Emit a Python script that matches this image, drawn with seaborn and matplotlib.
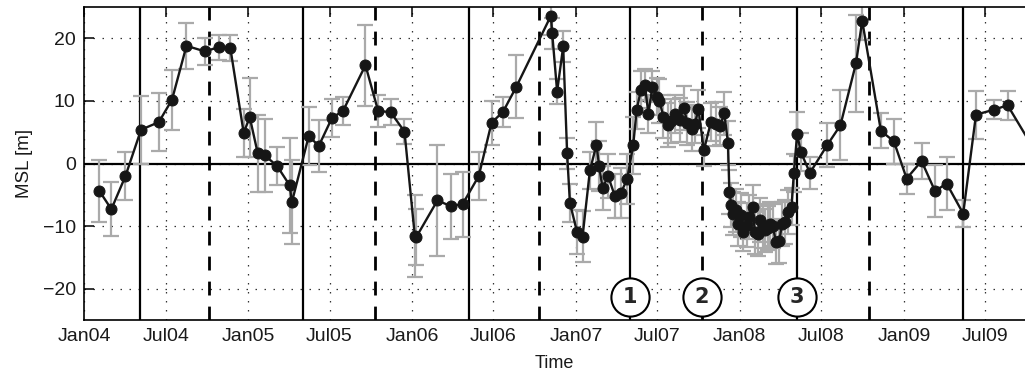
import numpy as np
import pandas as pd
import matplotlib
matplotlib.use("Agg")
import matplotlib.pyplot as plt
import matplotlib.dates as mdates
import seaborn as sns

# Observation epochs (decimal years), mean sea level anomaly and its 1-sigma error
t_year = [
    2004.094, 2004.167, 2004.253, 2004.348, 2004.456, 2004.537, 2004.625, 2004.738,
    2004.822, 2004.893, 2004.974, 2005.011, 2005.060, 2005.103, 2005.178, 2005.255,
    2005.268, 2005.371, 2005.432, 2005.513, 2005.580, 2005.717, 2005.794, 2005.870,
    2005.955, 2006.018, 2006.028, 2006.156, 2006.236, 2006.309, 2006.408, 2006.486,
    2006.557, 2006.638, 2006.848, 2006.856, 2006.886, 2006.923, 2006.947, 2006.964,
    2007.008, 2007.041, 2007.086, 2007.126, 2007.142, 2007.163, 2007.197, 2007.238,
    2007.275, 2007.313, 2007.350, 2007.371, 2007.397, 2007.421, 2007.443, 2007.467,
    2007.494, 2007.510, 2007.534, 2007.561, 2007.583, 2007.604, 2007.635, 2007.659,
    2007.681, 2007.706, 2007.726, 2007.748, 2007.781, 2007.824, 2007.854, 2007.879,
    2007.906, 2007.928, 2007.937, 2007.949, 2007.961, 2007.976, 2007.992, 2008.007,
    2008.021, 2008.042, 2008.056, 2008.078, 2008.092, 2008.111, 2008.123, 2008.141,
    2008.153, 2008.172, 2008.184, 2008.202, 2008.221, 2008.242, 2008.257, 2008.275,
    2008.296, 2008.316, 2008.330, 2008.350, 2008.373, 2008.428, 2008.535, 2008.614,
    2008.709, 2008.747, 2008.861, 2008.940, 2009.018, 2009.109, 2009.191, 2009.262,
    2009.363, 2009.441, 2009.551, 2009.634, 2009.801,
]
msl = [
    -4.4, -7.3, -2.0, 5.4, 6.6, 10.2, 18.8, 17.9,
    18.6, 18.4, 4.9, 7.4, 1.6, 1.3, -0.4, -3.5,
    -6.2, 4.4, 2.8, 7.3, 8.4, 15.7, 8.4, 8.2,
    5.1, -11.6, -11.7, -5.9, -6.8, -6.5, -2.0, 6.5,
    8.3, 12.3, 23.6, 20.8, 11.5, 18.7, 1.6, -6.3,
    -11.0, -11.7, -1.1, 3.0, -0.4, -3.9, -2.0, -5.2,
    -4.7, -2.5, 2.9, 8.5, 11.8, 12.6, 7.9, 12.3,
    10.7, 10.0, 7.5, 6.2, 6.8, 7.9, 7.0, 8.9,
    6.4, 5.5, 6.3, 8.7, 2.1, 6.6, 6.3, 6.0,
    8.0, 3.3, -4.6, -6.6, -8.0, -7.5, -9.6, -8.2,
    -10.9, -9.8, -8.6, -6.9, -10.9, -11.2, -9.0, -10.0,
    -10.7, -10.3, -9.6, -10.0, -12.6, -12.4, -9.6, -9.3,
    -7.7, -6.9, -1.5, 4.7, 1.8, -1.5, 3.0, 6.1,
    16.0, 22.8, 5.2, 3.55, -2.4, 0.4, -4.4, -3.2,
    -8.0, 7.8, 8.6, 9.3, 2.0,
]
msl_err = [
    5.0, 4.3, 3.8, 5.4, 4.6, 4.8, 3.7, 2.1,
    2.0, 2.1, 3.8, 6.3, 6.2, 5.8, 3.1, 7.6,
    6.7, 4.6, 4.1, 3.0, 2.3, 6.5, 2.5, 2.1,
    2.0, 6.6, 4.5, 8.9, 5.2, 5.2, 3.9, 3.5,
    2.4, 5.0, 3.0, 2.5, 2.0, 2.5, 2.5, 3.0,
    3.5, 4.1, 3.0, 3.7, 4.0, 3.5, 3.5, 3.5,
    4.0, 4.0, 4.5, 3.0, 3.0, 2.5, 3.0, 2.5,
    3.0, 3.5, 3.5, 3.5, 3.5, 3.0, 3.5, 3.5,
    3.5, 3.5, 3.0, 3.0, 2.5, 3.0, 3.5, 3.0,
    3.5, 3.5, 3.5, 3.5, 3.5, 3.5, 3.5, 3.5,
    3.0, 3.5, 3.5, 3.5, 3.5, 3.5, 3.5, 3.5,
    3.5, 3.5, 3.5, 3.5, 3.5, 3.5, 3.5, 3.5,
    3.5, 3.0, 3.0, 3.5, 3.0, 2.5, 3.5, 5.6,
    7.8, 3.0, 2.8, 3.6, 2.4, 2.9, 4.1, 4.3,
    2.1, 3.85, 1.5, 2.3, 3.0,
]

# Event markers (decimal years)
solid_events = [2004.340, 2005.334, 2006.347, 2007.330, 2008.349, 2009.362]
dashed_events = [2004.761, 2005.777, 2006.774, 2007.769, 2008.788]
marked_events = [2007.330, 2007.769, 2008.349]
marked_labels = ["1", "2", "3"]
marker_level = -21.3

x_range = [2004.0, 2009.740]
y_range = [-25, 25]
y_ticks = [-20, -10, 0, 10, 20]


def to_datetime(years):
    years = np.asarray(years, dtype=float)
    base = pd.Timestamp("2004-01-01")
    return base + pd.to_timedelta((years - 2004.0) * 365.25, unit="D")


df = pd.DataFrame({"time": to_datetime(t_year), "msl": msl, "err": msl_err})

sns.set_style("white")
plt.rcParams["font.family"] = ["Liberation Sans", "DejaVu Sans"]

fig = plt.figure(figsize=(10.25, 3.77), dpi=100)
ax = fig.add_axes([84 / 1025, 1 - 320 / 377, 1 - 84 / 1025, 313 / 377])

# Error bars underneath the series
ax.errorbar(df["time"], df["msl"], yerr=df["err"], fmt="none",
            ecolor="#aaaaaa", elinewidth=1.6, capsize=6, capthick=1.6, zorder=2)

sns.lineplot(data=df, x="time", y="msl", ax=ax, color="#161616", lw=1.7,
             marker="o", markersize=7.9, markeredgecolor="#161616",
             estimator=None, sort=False, zorder=4)

# Reference lines
ax.axhline(0, color="black", lw=1.6, zorder=1.5)
for t in to_datetime(solid_events):
    ax.axvline(t, color="black", lw=1.6, zorder=1.5)
for t in to_datetime(dashed_events):
    ax.axvline(t, color="black", lw=2.0, ls=(0, (5, 4)), zorder=1.5)

# Numbered event circles
for t, lab in zip(to_datetime(marked_events), marked_labels):
    ax.plot([t], [marker_level], "o", ms=27.5, mfc="white", mec="black",
            mew=1.5, zorder=6, clip_on=False)
    ax.text(t, marker_level, lab, ha="center", va="center", fontsize=15,
            fontweight="bold", family=["DejaVu Sans"], zorder=7)

ax.set_xlim(to_datetime([x_range[0]])[0], to_datetime([x_range[1]])[0])
ax.set_ylim(*y_range)
ax.set_yticks(y_ticks)
ax.set_yticklabels(["\u221220", "\u221210", "0", "10", "20"])
ax.xaxis.set_major_locator(mdates.MonthLocator(bymonth=[1, 7]))
ax.xaxis.set_major_formatter(mdates.DateFormatter("%b%y"))

ax.grid(True, which="major", color="#333333", lw=0.9, ls=(0, (1.2, 6)))
ax.set_axisbelow(True)

ax.tick_params(axis="both", direction="in", length=7, width=1.1,
               labelsize=14, colors="black", labelcolor="#1a1a1a")
ax.tick_params(axis="x", top=True, pad=6)
ax.tick_params(axis="y", left=True, right=False, pad=6)

for side in ["left", "bottom", "top"]:
    ax.spines[side].set_color("black")
    ax.spines[side].set_linewidth(1.2)
ax.spines["right"].set_visible(False)

ax.set_xlabel("Time", fontsize=13, labelpad=7, color="#1a1a1a")
ax.set_ylabel("MSL [m]", fontsize=13.5, labelpad=7, color="#1a1a1a")

fig.savefig("out.png", dpi=100)
